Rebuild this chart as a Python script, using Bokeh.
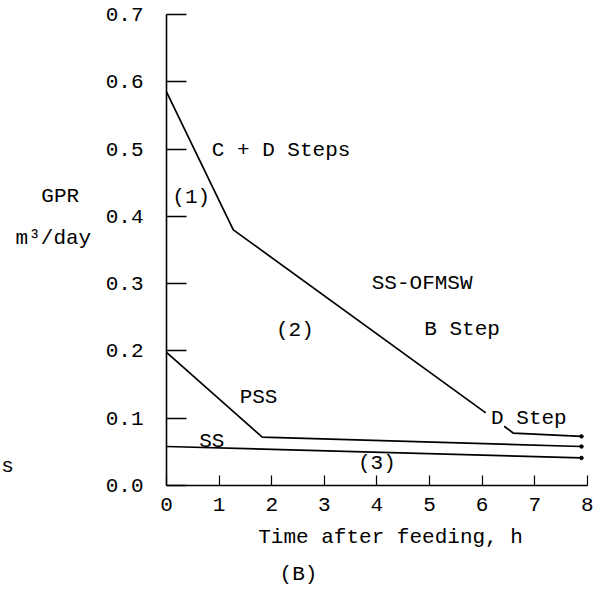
from bokeh.plotting import figure
from bokeh.models import FixedTicker, Label
from bokeh.embed import file_html
from bokeh.resources import INLINE

FONT = "Liberation Mono"

# Data
c12_x = [0.0, 1.27, 6.07]
c12_y = [0.585, 0.38, 0.108]
cd_x = [6.42, 6.59, 7.89]
cd_y = [0.088, 0.078, 0.073]
pss_x = [0.0, 1.82, 7.89]
pss_y = [0.198, 0.072, 0.058]
ss_x = [0.0, 7.89]
ss_y = [0.058, 0.041]

y_ticks = [0.0, 0.1, 0.2, 0.3, 0.4, 0.5, 0.6, 0.7]
y_tick_labels = ["0.0", "0.1", "0.2", "0.3", "0.4", "0.5", "0.6", "0.7"]
x_ticks = [0, 1, 2, 3, 4, 5, 6, 7, 8]

# annotation texts: (text, x, y, align)
texts = [
    ("GPR", -2.02, 0.4295, "center"),
    ("m\u00b3/day", -2.15, 0.367, "center"),
    ("(1)", 0.47, 0.428, "center"),
    ("C + D Steps", 0.86, 0.498, "left"),
    ("(2)", 2.44, 0.230, "center"),
    ("SS-OFMSW", 4.86, 0.300, "center"),
    ("B Step", 5.62, 0.232, "center"),
    ("D Step", 6.89, 0.0996, "center"),
    ("PSS", 1.75, 0.131, "center"),
    ("SS", 0.86, 0.065, "center"),
    ("(3)", 4.0, 0.0327, "center"),
    ("Time after feeding, h", 4.26, -0.077, "center"),
    ("(B)", 2.51, -0.132, "center"),
    ("s", -3.14, 0.028, "left"),
]

p = figure(width=593, height=592, x_range=(-3.156, 8.118), y_range=(-0.159, 0.7208),
           output_backend="svg", toolbar_location=None, title=None,
           min_border_left=0, min_border_right=0,
           min_border_top=0, min_border_bottom=0, min_border=0)
p.outline_line_color = None
p.xgrid.visible = False
p.ygrid.visible = False
p.background_fill_color = "white"
p.border_fill_color = "white"

ya = p.yaxis[0]
ya.fixed_location = 0
ya.bounds = (0, 0.7)
ya.ticker = FixedTicker(ticks=y_ticks)
ya.major_label_overrides = {t: s for t, s in zip(y_ticks, y_tick_labels)}
ya.major_tick_in = 20
ya.major_tick_out = 0
ya.minor_tick_in = 0
ya.minor_tick_out = 0
ya.major_label_standoff = 23
ya.axis_line_width = 1.6
ya.major_tick_line_width = 1.4
ya.axis_line_color = "black"
ya.major_tick_line_color = "black"
ya.major_label_text_font = FONT
ya.major_label_text_font_size = "21px"
ya.major_label_text_color = "black"

xa = p.xaxis[0]
xa.fixed_location = 0
xa.bounds = (0, 8)
xa.ticker = FixedTicker(ticks=x_ticks)
xa.major_tick_in = 10
xa.major_tick_out = 0
xa.minor_tick_in = 0
xa.minor_tick_out = 0
xa.major_label_standoff = 12
xa.axis_line_width = 1.6
xa.major_tick_line_width = 1.2
xa.axis_line_color = "black"
xa.major_tick_line_color = "black"
xa.major_label_text_font = FONT
xa.major_label_text_font_size = "21px"
xa.major_label_text_color = "black"

for xs, ys in [(c12_x, c12_y), (cd_x, cd_y), (pss_x, pss_y), (ss_x, ss_y)]:
    p.line(xs, ys, line_color="black", line_width=1.7)

p.scatter([cd_x[-1], pss_x[-1], ss_x[-1]], [cd_y[-1], pss_y[-1], ss_y[-1]],
          size=3.5, color="black")

for t, x, y, al in texts:
    p.add_layout(Label(x=x, y=y, text=t, text_font=FONT, text_font_size="21px",
                       text_align=al, text_baseline="middle", text_color="black"))

open("out.html", "w").write(file_html(p, INLINE))
